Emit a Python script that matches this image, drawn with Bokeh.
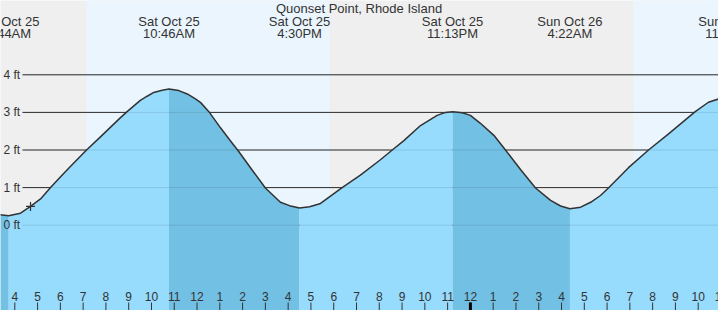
from bokeh.plotting import figure
from bokeh.models import Range1d
from bokeh.core.properties import value
from bokeh.embed import file_html
from bokeh.resources import INLINE

# ---------------- data (hours counted from Sat Oct 25 00:00) ----------------
title = "Quonset Point, Rhode Island"

tide_hours = [3.36, 3.73, 4.25, 4.69, 5.13, 5.57, 6.01, 6.45, 7.15, 7.76, 8.64, 8.93,
              9.51, 9.81, 10.10, 10.47, 10.77, 11.20, 11.57, 11.93, 12.16, 12.52, 13.03, 13.47,
              13.83, 14.49, 15.00, 15.66, 16.06, 16.50, 16.94, 17.39, 18.37, 19.17,
              20.05, 20.57, 21.08, 21.81, 22.54, 22.91, 23.22, 23.64, 24.00, 24.44,
              25.03, 25.54, 26.20, 26.86, 27.52, 27.96, 28.37, 28.84, 29.28, 29.71,
              30.06, 30.94, 31.82, 32.70, 33.87, 34.45, 34.90]
tide_feet = [0.28, 0.25, 0.32, 0.50, 0.70, 1.00, 1.29, 1.57, 2.00, 2.35, 2.86, 3.02,
             3.32, 3.43, 3.53, 3.59, 3.62, 3.58, 3.49, 3.36, 3.26, 3.02, 2.59, 2.24,
             1.96, 1.41, 0.99, 0.61, 0.52, 0.46, 0.49, 0.57, 1.00, 1.33,
             1.74, 2.00, 2.25, 2.65, 2.92, 3.00, 3.02, 2.99, 2.92, 2.71,
             2.39, 2.00, 1.48, 0.99, 0.66, 0.51, 0.44, 0.48, 0.61, 0.79,
             0.99, 1.53, 2.00, 2.43, 3.02, 3.27, 3.36]

ext_hours = [3.733, 10.767, 16.5, 23.217, 28.367, 35.43]
ext_kind = ["low", "high", "low", "high", "low", "high"]
ext_dates = ["Sat Oct 25", "Sat Oct 25", "Sat Oct 25", "Sat Oct 25", "Sun Oct 26", "Sun Oct 26"]
ext_times = ["3:44AM", "10:46AM", "4:30PM", "11:13PM", "4:22AM", "11:26AM"]

sun_hours = [7.15, 17.82, 31.16]          # sunrise, sunset, sunrise
now_hour, now_feet = 4.69, 0.50

gridline_feet = [0, 1, 2, 3, 4]
gridline_labels = ["0 ft", "1 ft", "2 ft", "3 ft", "4 ft"]

tick_hours = list(range(4, 36))
tick_labels = ["4", "5", "6", "7", "8", "9", "10", "11", "12", "1", "2", "3", "4",
               "5", "6", "7", "8", "9", "10", "11", "12", "1", "2", "3", "4", "5",
               "6", "7", "8", "9", "10", "11"]
midnight_hour = 24

# ---------------- layout helpers ----------------
W, H = 718, 310
PX_PER_HOUR = 22.78
X_TICK4 = 14.3
Y0_PX, PX_PER_FT = 224.7, 37.6


def hx(px):
    return 4 + (px - X_TICK4) / PX_PER_HOUR


def fy(px):
    return (Y0_PX - px) / PX_PER_FT


x0, x1 = hx(0), hx(W)
y0, y1 = fy(H), fy(0)

NIGHT = "#efefef"
DAY = "#eaf5fe"
WATER_RISE = "#97dbfd"
WATER_FALL = "#72c0e4"
INK = "#333333"
FONT = value("Liberation Sans")

p = figure(width=W, height=H, x_range=Range1d(x0, x1), y_range=Range1d(y0, y1),
           toolbar_location=None, output_backend="svg", min_border=0,
           min_border_left=0, min_border_right=0, min_border_top=0, min_border_bottom=0)
p.axis.visible = False
p.grid.visible = False
p.outline_line_color = None
p.background_fill_color = NIGHT
p.border_fill_color = NIGHT

# day / night bands
day_l = [sun_hours[0], sun_hours[2]]
day_r = [sun_hours[1], x1 + 1]
p.quad(left=day_l, right=day_r, bottom=y0 - 1, top=y1 + 1, fill_color=DAY, line_color=None)

# dark grid lines
gx0 = hx(22)
p.segment(x0=[gx0] * len(gridline_feet), x1=[x1 + 1] * len(gridline_feet),
          y0=gridline_feet, y1=gridline_feet, line_color=INK, line_width=1)

# water fill split into rising / falling phases at the data point nearest each extreme
split_idx = [0]
split_kind = []
for h, k in zip(ext_hours, ext_kind):
    if tide_hours[0] < h < tide_hours[-1]:
        j = min(range(len(tide_hours)), key=lambda i: abs(tide_hours[i] - h))
        split_idx.append(j)
        split_kind.append(k)
split_idx.append(len(tide_hours) - 1)
following = [k for h, k in zip(ext_hours, ext_kind) if h > tide_hours[-1]]
split_kind.append(following[0] if following else "high")
for i in range(len(split_idx) - 1):
    a, b = split_idx[i], split_idx[i + 1]
    xs = tide_hours[a:b + 1]
    ys = tide_feet[a:b + 1]
    falling = split_kind[i] == "low"
    p.varea(x=xs, y1=[y0 - 1] * len(xs), y2=ys,
            fill_color=WATER_FALL if falling else WATER_RISE)

# faint grid lines through the water
p.segment(x0=[gx0] * len(gridline_feet), x1=[x1 + 1] * len(gridline_feet),
          y0=gridline_feet, y1=gridline_feet, line_color="black", line_alpha=0.1, line_width=1)

# tide curve
p.line(tide_hours, tide_feet, line_color=INK, line_width=1.5, line_join="round")

# current time marker
p.scatter([now_hour], [now_feet], marker="cross", size=9, line_color=INK, line_width=1.2)

# y labels
p.text(x=[hx(3)] * len(gridline_feet), y=gridline_feet, text=gridline_labels,
       text_font=FONT, text_font_size="12px", text_color=INK,
       text_align="left", text_baseline="middle")

# title and extreme labels
p.text(x=[hx(358.5)], y=[fy(7.5)], text=[title], text_font=FONT, text_font_size="13px",
       text_color=INK, text_align="center", text_baseline="middle")
p.text(x=ext_hours, y=[fy(20.5)] * len(ext_hours), text=ext_dates, text_font=FONT,
       text_font_size="13px", text_color=INK, text_align="center", text_baseline="middle")
p.text(x=ext_hours, y=[fy(32.5)] * len(ext_hours), text=ext_times, text_font=FONT,
       text_font_size="13px", text_color=INK, text_align="center", text_baseline="middle")

# hour ticks
p.segment(x0=tick_hours, x1=tick_hours, y0=[fy(302)] * len(tick_hours),
          y1=[fy(311)] * len(tick_hours), line_color=INK, line_width=1)
p.segment(x0=[midnight_hour], x1=[midnight_hour], y0=[fy(302)], y1=[fy(311)],
          line_color="black", line_width=3)
p.text(x=tick_hours, y=[fy(295.5)] * len(tick_hours), text=tick_labels, text_font=FONT,
       text_font_size="12px", text_color=INK, text_align="center", text_baseline="middle")

open("out.html", "w").write(file_html(p, INLINE))
